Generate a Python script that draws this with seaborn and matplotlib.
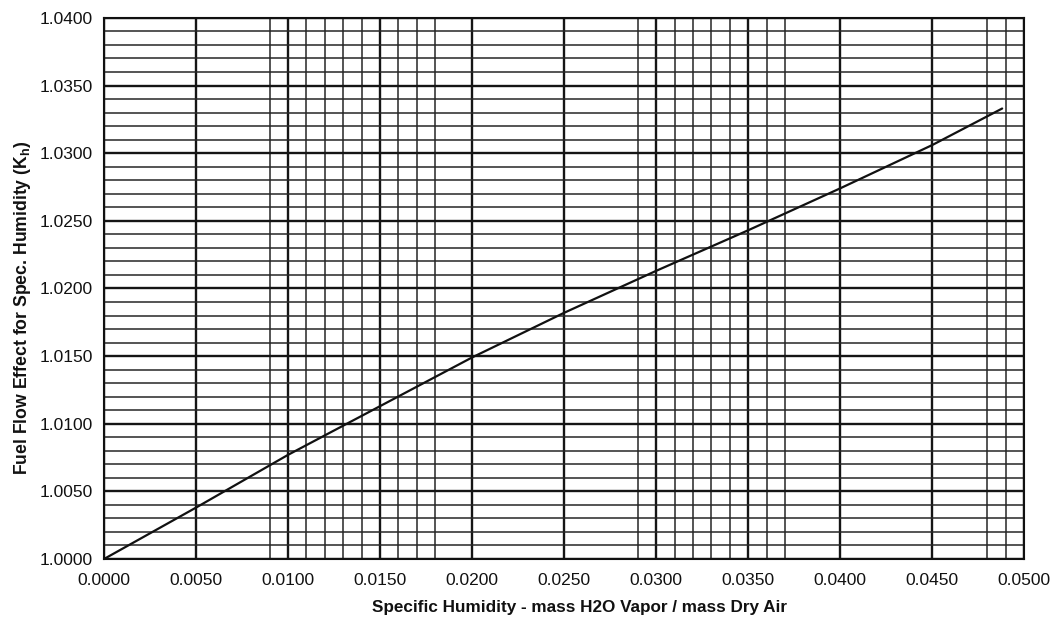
import matplotlib
matplotlib.use("Agg")
import matplotlib.pyplot as plt
import seaborn as sns
import numpy as np
from matplotlib.ticker import FixedLocator, FormatStrFormatter

# ---- data ----
humidity = [0.0000, 0.0050, 0.0100, 0.0150, 0.0200, 0.0250, 0.0300, 0.0350, 0.0400, 0.0450, 0.0488]
kh = [1.0000, 1.0038, 1.0077, 1.0113, 1.0149, 1.0182, 1.0213, 1.0243, 1.0274, 1.0306, 1.0333]

x_major = [0.0000, 0.0050, 0.0100, 0.0150, 0.0200, 0.0250, 0.0300, 0.0350, 0.0400, 0.0450, 0.0500]
x_minor = [0.0090, 0.0110, 0.0120, 0.0130, 0.0140, 0.0160, 0.0170, 0.0180,
           0.0290, 0.0310, 0.0320, 0.0330, 0.0340, 0.0360, 0.0370,
           0.0480, 0.0490]
y_major = [1.0000, 1.0050, 1.0100, 1.0150, 1.0200, 1.0250, 1.0300, 1.0350, 1.0400]
y_minor = [1.0010, 1.0020, 1.0030, 1.0040, 1.0060, 1.0070, 1.0080, 1.0090,
           1.0110, 1.0120, 1.0130, 1.0140, 1.0160, 1.0170, 1.0180, 1.0190,
           1.0210, 1.0220, 1.0230, 1.0240, 1.0260, 1.0270, 1.0280, 1.0290,
           1.0310, 1.0320, 1.0330, 1.0340, 1.0360, 1.0370, 1.0380, 1.0390]

x_label = "Specific Humidity - mass H2O Vapor / mass Dry Air"
y_label = "Fuel Flow Effect for Spec. Humidity (K$_\\mathrm{h}$)"

sns.set_theme(style="white")
plt.rcParams['font.family'] = ['Liberation Sans', 'DejaVu Sans']
plt.rcParams['mathtext.fontset'] = 'custom'
plt.rcParams['mathtext.rm'] = 'Liberation Sans:bold'
plt.rcParams['mathtext.it'] = 'Liberation Sans:bold'

fig = plt.figure(figsize=(10.57, 6.17), dpi=100)
ax = fig.add_axes([0.0984, 0.094, 0.8706, 0.877])

sns.lineplot(x=humidity, y=kh, color='#111111', linewidth=1.6, ax=ax)

ax.set_xlim(0.0, 0.05)
ax.set_ylim(1.0, 1.04)

ax.xaxis.set_major_locator(FixedLocator(x_major))
ax.xaxis.set_minor_locator(FixedLocator(x_minor))
ax.yaxis.set_major_locator(FixedLocator(y_major))
ax.yaxis.set_minor_locator(FixedLocator(y_minor))
ax.xaxis.set_major_formatter(FormatStrFormatter('%.4f'))
ax.yaxis.set_major_formatter(FormatStrFormatter('%.4f'))

ax.grid(True, which='major', color='#151515', linewidth=1.7)
ax.grid(True, which='minor', color='#262626', linewidth=1.1)
ax.set_axisbelow(True)

ax.tick_params(axis='both', which='major', length=4, width=1, color='#333333',
               labelsize=12.5, labelcolor='#111111', direction='out', pad=4)
ax.tick_params(axis='x', which='major', pad=6)
ax.tick_params(axis='both', which='minor', length=0)

for s in ax.spines.values():
    s.set_color('#111111')
    s.set_linewidth(1.5)

ax.set_xlabel(x_label, fontsize=12.3, fontweight='bold', color='#111111')
ax.set_ylabel(y_label, fontsize=12.7, fontweight='bold', color='#111111')
ax.xaxis.set_label_coords(0.517, -0.075)
ax.yaxis.set_label_coords(-0.077, 0.465)

fig.savefig("out.png", dpi=100)
